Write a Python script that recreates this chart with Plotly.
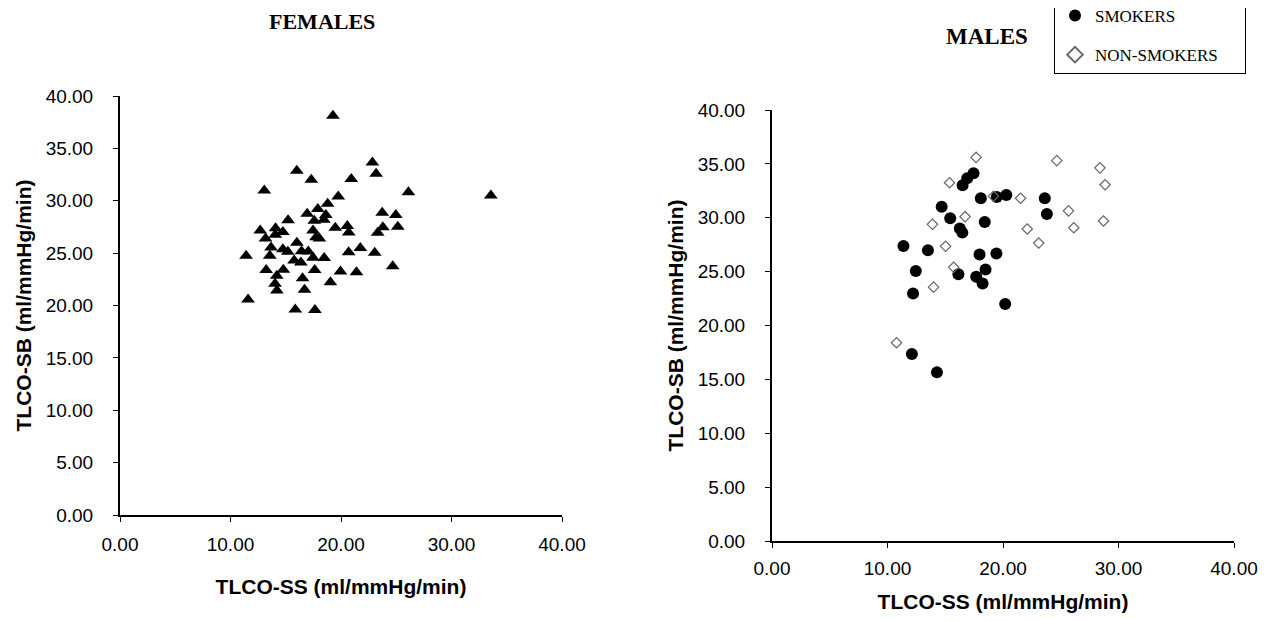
import plotly.graph_objects as go

# ---- data ----
fem_x = [19.27, 22.84, 23.18, 16.0, 17.31, 20.93, 26.1, 33.56, 13.06, 19.75,
         18.79, 17.9, 16.94, 23.73, 24.96, 25.14, 23.79, 23.32, 18.63, 18.45,
         17.58, 15.21, 19.48, 20.57, 20.7, 17.47, 17.74, 18.04, 12.69, 14.08,
         14.74, 13.17, 14.05, 21.75, 20.69, 23.05, 16.01, 13.67, 14.74, 15.19,
         16.43, 17.04, 17.47, 18.48, 13.56, 15.76, 16.37, 11.41, 24.68, 13.23,
         14.78, 17.62, 19.95, 21.4, 14.19, 16.52, 19.04, 14.03, 14.2, 16.7,
         11.59, 15.86, 17.64]
fem_y = [38.12, 33.65, 32.57, 32.87, 32.0, 32.08, 30.82, 30.51, 30.97, 30.41,
         29.72, 29.22, 28.76, 28.85, 28.65, 27.52, 27.48, 26.95, 28.64, 28.19,
         28.08, 28.14, 27.43, 27.59, 26.96, 27.16, 26.52, 26.4, 27.15, 27.37,
         27.02, 26.4, 26.75, 25.48, 25.08, 25.03, 26.0, 25.53, 25.36, 25.12,
         25.19, 25.16, 24.57, 24.54, 24.76, 24.3, 24.11, 24.74, 23.74, 23.38,
         23.42, 23.4, 23.25, 23.17, 22.84, 22.6, 22.22, 22.07, 21.44, 21.5,
         20.58, 19.62, 19.57]

smk_x = [17.45, 16.9, 16.5, 18.08, 19.46, 20.29, 23.62, 23.8, 14.69, 15.43,
         16.26, 16.48, 18.42, 11.38, 13.5, 17.97, 19.43, 12.45, 16.14, 17.68,
         18.49, 18.23, 12.21, 20.19, 12.11, 14.28]
smk_y = [34.14, 33.67, 33.02, 31.8, 31.93, 32.11, 31.82, 30.35, 31.03, 29.96,
         29.0, 28.62, 29.6, 27.37, 26.98, 26.58, 26.68, 25.05, 24.75, 24.53,
         25.2, 23.9, 22.97, 22.0, 17.35, 15.65]

non_x = [15.37, 19.17, 21.52, 25.67, 26.13, 28.7, 28.84, 16.72, 13.89, 23.09,
         22.1, 15.03, 13.99, 15.73, 28.39, 17.67, 10.78, 24.66]
non_y = [33.25, 32.0, 31.81, 30.64, 29.07, 29.7, 33.06, 30.1, 29.39, 27.65,
         28.96, 27.35, 23.56, 25.4, 34.63, 35.6, 18.4, 35.3]

x_ticks = [0, 10, 20, 30, 40]
y_ticks = [0, 5, 10, 15, 20, 25, 30, 35, 40]
x_title = "TLCO-SS (ml/mmHg/min)"
y_title = "TLCO-SB (ml/mmHg/min)"

# page is 1267x621; html body has an 8px margin, so the figure is 16px smaller
W, H = 1251, 605
OFF = 8
SANS = "Liberation Sans, Arial, sans-serif"
SERIF = "Liberation Serif, Times New Roman, serif"
NB = "\u00a0"

fig = go.Figure()
fig.add_trace(go.Scatter(x=fem_x, y=fem_y, mode="markers", xaxis="x", yaxis="y",
                         marker=dict(symbol="triangle-up", size=12, color="black"),
                         showlegend=False, name="FEMALES"))
fig.add_trace(go.Scatter(x=smk_x, y=smk_y, mode="markers", xaxis="x2", yaxis="y2",
                         marker=dict(symbol="circle", size=12, color="black"),
                         name="SMOKERS", legendgroup="a"))
fig.add_trace(go.Scatter(x=non_x, y=non_y, mode="markers", xaxis="x2", yaxis="y2",
                         marker=dict(symbol="diamond-open", size=8, color="#666",
                                     line=dict(width=1.2)),
                         name="NON-SMOKERS" + NB * 5, legendgroup="b"))

def dom_x(a, b):  # page pixels -> paper fraction
    return [(a - OFF) / W, (b - OFF) / W]

def dom_y(top, bottom):
    return [1 - (bottom - OFF) / H, 1 - (top - OFF) / H]

def px(xp):
    return (xp - OFF) / W

def py(yp):
    return 1 - (yp - OFF) / H

axis_common = dict(range=[0, 40], showgrid=False, zeroline=False, showline=True,
                   linecolor="black", linewidth=2, tickformat=".2f",
                   tickfont=dict(family=SANS, size=19, color="black"),
                   ticks="outside", ticklen=5, tickcolor="black", automargin=False,
                   ticklabeloverflow="allow")
title_font = dict(family=SANS, size=21, color="black")

fig.update_layout(
    width=W, height=H,
    margin=dict(l=0, r=0, t=0, b=0, autoexpand=False),
    paper_bgcolor="white", plot_bgcolor="white",
    xaxis=dict(axis_common, domain=dom_x(120, 562), anchor="y",
               tickvals=x_ticks, ticklabelstandoff=6,
               title=dict(text="<b>" + x_title + "</b>", font=title_font, standoff=26)),
    yaxis=dict(axis_common, domain=dom_y(96, 515), anchor="x",
               tickvals=y_ticks, ticklabelstandoff=16,
               title=dict(text="<b>" + y_title + "</b>", font=title_font, standoff=8)),
    xaxis2=dict(axis_common, domain=dom_x(772, 1234), anchor="y2",
                tickvals=x_ticks, ticklabelstandoff=4,
                title=dict(text="<b>" + x_title + "</b>", font=title_font, standoff=29)),
    yaxis2=dict(axis_common, domain=dom_y(110, 541), anchor="x2",
                tickvals=y_ticks, ticklabelstandoff=16,
                title=dict(text="<b>" + y_title + "</b>", font=title_font, standoff=8)),
    legend=dict(x=px(1054), y=1 + 11 / H, xanchor="left", yanchor="top",
                bordercolor="black", borderwidth=1, bgcolor="white",
                font=dict(family=SERIF, size=17, color="black"),
                tracegroupgap=14, itemsizing="constant"),
    annotations=[
        dict(text="<b>FEMALES</b>", x=px(322), y=py(21), xref="paper", yref="paper",
             xanchor="center", yanchor="middle", showarrow=False,
             font=dict(family=SERIF, size=22, color="black")),
        dict(text="<b>MALES</b>", x=px(987), y=py(36), xref="paper", yref="paper",
             xanchor="center", yanchor="middle", showarrow=False,
             font=dict(family=SERIF, size=23, color="black")),
    ],
)

fig.write_html("out.html")
